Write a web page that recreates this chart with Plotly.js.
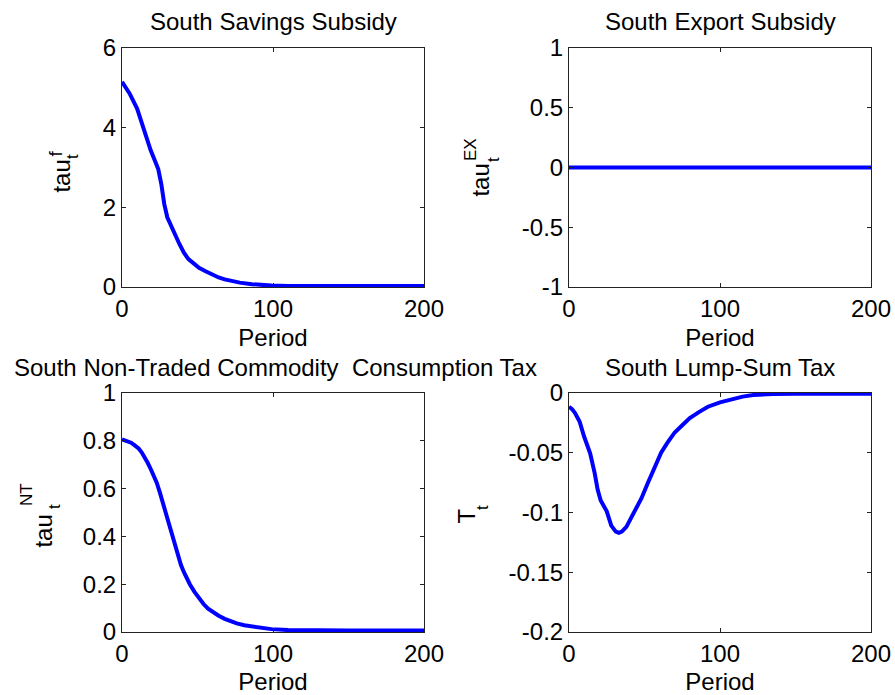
<!DOCTYPE html>
<html>
<head>
<meta charset="utf-8">
<script src="https://cdn.plot.ly/plotly-3.0.1.min.js"></script>
<style>html,body{margin:0;padding:0;background:#fff;}#chart{width:895px;height:695px;}</style>
</head>
<body>
<div id="chart"></div>
<script>
// ---- data ----
var savPeriod = [0, 5, 10, 14, 17, 19, 22, 24, 26, 28, 30, 32, 35, 38, 41, 44, 48, 51, 55, 59, 64, 68, 72, 78, 86, 92, 99, 110, 120, 150, 200];
var savValue  = [5.15, 4.86, 4.48, 3.98, 3.64, 3.43, 3.15, 2.96, 2.59, 2.08, 1.75, 1.56, 1.33, 1.08, 0.86, 0.70, 0.57, 0.48, 0.40, 0.32, 0.24, 0.19, 0.15, 0.11, 0.07, 0.05, 0.035, 0.028, 0.025, 0.025, 0.025];

var expPeriod = [0, 50, 100, 150, 200];
var expValue  = [0, 0, 0, 0, 0];

var ntPeriod = [0, 3, 6, 8, 11, 13, 15, 17, 19, 21, 23, 25, 27, 29, 31, 33, 35, 37, 39, 41, 43, 45, 48, 51, 54, 57, 60, 64, 68, 72, 76, 81, 90, 99, 110, 120, 150, 200];
var ntValue  = [0.806, 0.801, 0.792, 0.783, 0.768, 0.752, 0.732, 0.708, 0.682, 0.655, 0.625, 0.585, 0.540, 0.495, 0.449, 0.402, 0.357, 0.317, 0.281, 0.250, 0.223, 0.199, 0.168, 0.140, 0.117, 0.098, 0.083, 0.068, 0.055, 0.044, 0.036, 0.028, 0.018, 0.012, 0.008, 0.007, 0.006, 0.006];

var lsPeriod = [0, 2, 4, 7, 10, 14, 17, 19, 21, 23, 25, 28, 31, 33, 35, 38, 41, 44, 48, 52, 57, 61, 65, 70, 75, 80, 86, 92, 100, 109, 115, 122, 135, 150, 200];
var lsValue  = [-0.0115, -0.0135, -0.0168, -0.0238, -0.0364, -0.0504, -0.067, -0.081, -0.090, -0.094, -0.099, -0.111, -0.116, -0.117, -0.116, -0.112, -0.105, -0.099, -0.088, -0.076, -0.061, -0.050, -0.042, -0.033, -0.027, -0.021, -0.016, -0.0115, -0.0078, -0.005, -0.003, -0.0017, -0.0008, -0.0007, -0.0007];

var xTicks = [0, 100, 200];
var savTicks = [0, 2, 4, 6];
var expTicks = [-1, -0.5, 0, 0.5, 1];
var expTickText = ['-1', '-0.5', '0', '0.5', '1'];
var ntTicks = [0, 0.2, 0.4, 0.6, 0.8, 1];
var ntTickText = ['0', '0.2', '0.4', '0.6', '0.8', '1'];
var lsTicks = [-0.2, -0.15, -0.1, -0.05, 0];
var lsTickText = ['-0.2', '-0.15', '-0.1', '-0.05', '0'];

var titles = ['South Savings Subsidy', 'South Export Subsidy',
              'South Non-Traded Commodity\u00A0 Consumption Tax', 'South Lump-Sum Tax'];
var xLabel = 'Period';

// ---- layout helpers ----
var W = 895, H = 695;
function px(x) { return x / W; }
function py(y) { return 1 - y / H; }
var FONT = 'Liberation Sans, Arial, Helvetica, sans-serif';
var colL = [122, 424], colR = [569, 871];
var rowT = [48, 287], rowB = [393, 632];

function xa(dom, anchor) {
  return {
    domain: [px(dom[0]), px(dom[1])], anchor: anchor, range: [0, 200],
    tickvals: xTicks, ticks: 'inside', ticklen: 4, tickwidth: 1, tickcolor: '#222',
    showline: true, linecolor: '#222', linewidth: 1, mirror: 'ticks',
    showgrid: false, zeroline: false, fixedrange: true,
    tickfont: {family: FONT, size: 24, color: '#000'},
    title: {text: xLabel, font: {family: FONT, size: 24, color: '#000'}, standoff: 8}
  };
}
function ya(dom, anchor, range, vals, txt) {
  var o = {
    domain: [py(dom[1]), py(dom[0])], anchor: anchor, range: range,
    tickvals: vals, ticks: 'inside', ticklen: 4, tickwidth: 1, tickcolor: '#222',
    showline: true, linecolor: '#222', linewidth: 1, mirror: 'ticks',
    showgrid: false, zeroline: false, fixedrange: true,
    tickfont: {family: FONT, size: 24, color: '#000'}
  };
  if (txt) o.ticktext = txt;
  return o;
}

var line = {color: '#0000ff', width: 4};
var data = [
  {x: savPeriod, y: savValue, xaxis: 'x', yaxis: 'y', type: 'scatter', mode: 'lines', line: line},
  {x: expPeriod, y: expValue, xaxis: 'x2', yaxis: 'y2', type: 'scatter', mode: 'lines', line: line},
  {x: ntPeriod, y: ntValue, xaxis: 'x3', yaxis: 'y3', type: 'scatter', mode: 'lines', line: line},
  {x: lsPeriod, y: lsValue, xaxis: 'x4', yaxis: 'y4', type: 'scatter', mode: 'lines', line: line}
];

function ann(text, x, y, size, opts) {
  var a = {text: text, xref: 'paper', yref: 'paper', x: px(x), y: py(y), showarrow: false,
           font: {family: FONT, size: size, color: '#000'}, borderpad: 0,
           xanchor: 'center', yanchor: 'middle'};
  for (var k in opts) a[k] = opts[k];
  return a;
}
function rotAnn(text, baseX, cy, size) {
  // baseline at baseX (right side of rotated glyphs)
  return ann(text, baseX + 0.212 * size, cy, size, {textangle: -90, xanchor: 'right'});
}

var annotations = [
  ann(titles[0], 273, 22, 24), ann(titles[1], 720, 22, 24),
  ann(titles[2], 275, 367, 24), ann(titles[3], 720, 367, 24),
  // y labels
  rotAnn('tau', 70, 176, 24), rotAnn('t', 80, 157, 17), rotAnn('f', 62, 154, 19),
  rotAnn('tau', 490, 180, 24), rotAnn('t', 500, 160, 17), rotAnn('EX', 477, 150, 17),
  rotAnn('tau', 52, 531, 24), rotAnn('t', 62, 507, 17), rotAnn('NT', 33, 495, 17),
  rotAnn('T', 475, 516, 24), rotAnn('t', 489, 508, 17)
];

var layout = {
  width: W, height: H, margin: {l: 0, r: 0, t: 0, b: 0},
  paper_bgcolor: '#fff', plot_bgcolor: '#fff', showlegend: false,
  font: {family: FONT, size: 24, color: '#000'},
  xaxis: xa(colL, 'y'), yaxis: ya(rowT, 'x', [0, 6], savTicks),
  xaxis2: xa(colR, 'y2'), yaxis2: ya(rowT, 'x2', [-1, 1], expTicks, expTickText),
  xaxis3: xa(colL, 'y3'), yaxis3: ya(rowB, 'x3', [0, 1], ntTicks, ntTickText),
  xaxis4: xa(colR, 'y4'), yaxis4: ya(rowB, 'x4', [-0.2, 0], lsTicks, lsTickText),
  annotations: annotations
};

Plotly.newPlot('chart', data, layout, {displayModeBar: false, staticPlot: true});
</script>
</body>
</html>
